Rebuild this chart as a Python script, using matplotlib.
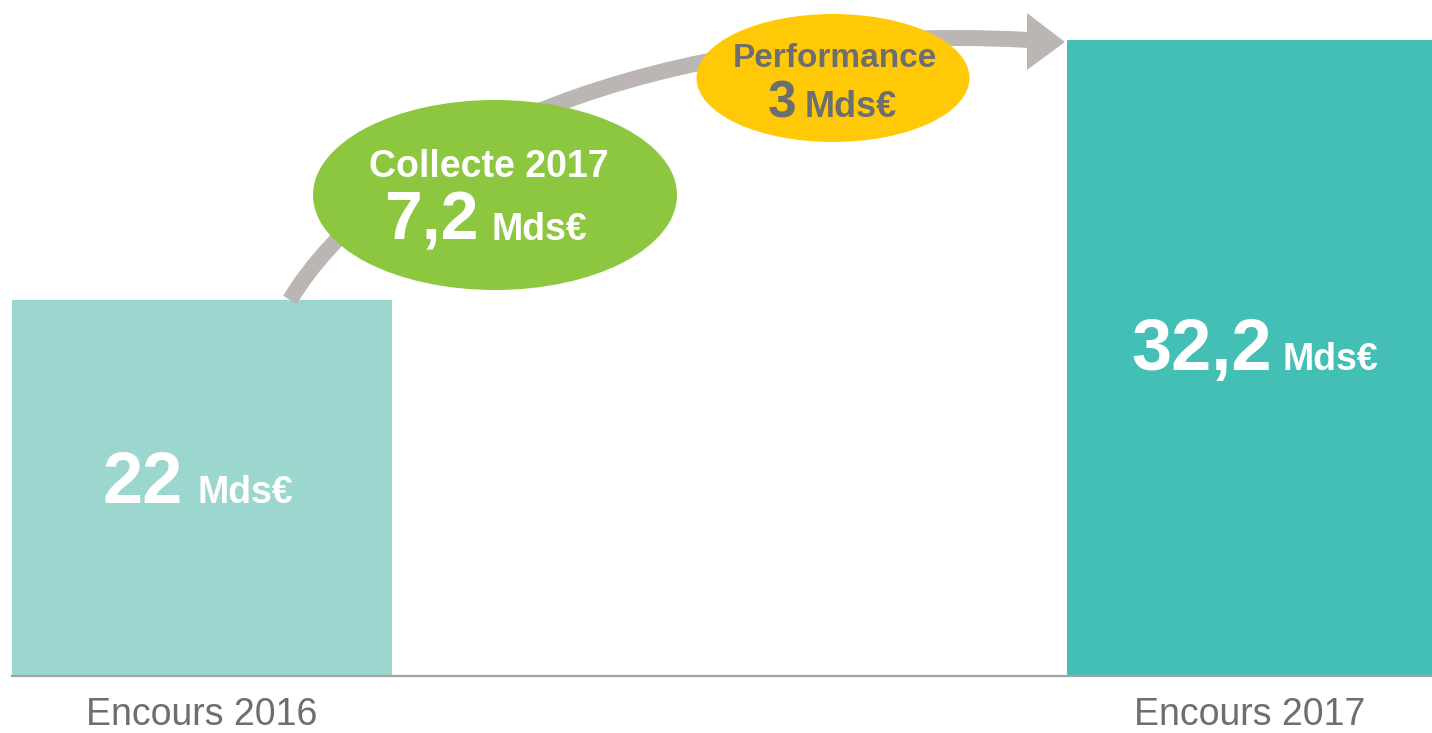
import matplotlib
matplotlib.use("Agg")
import matplotlib.pyplot as plt
from matplotlib import font_manager
from matplotlib.patches import Ellipse, PathPatch, Polygon
from matplotlib.path import Path

# ---- data ----
categories = ["Encours 2016", "Encours 2017"]
values = [22.0, 32.2]
value_labels = ["22", "32,2"]
unit = "Mds€"
flow_titles = ["Collecte 2017", "Performance"]
flow_values = ["7,2", "3"]

# ---- style ----
names = {f.name for f in font_manager.fontManager.ttflist}
COND = "Liberation Sans Narrow" if "Liberation Sans Narrow" in names else "Liberation Sans"
FONT = [COND, "DejaVu Sans"]
BAR_COLORS = ["#9bd6cf", "#43bfb5"]
GREEN = "#8dc63f"
YELLOW = "#ffc907"
ARROW = "#bbb6b4"
GREYTXT = "#6d6e70"

W, H = 1432, 733
fig = plt.figure(figsize=(W / 100, H / 100), dpi=100)


def fpx(x, y):
    """image pixel (top-left origin) -> figure fraction"""
    return x / W, 1 - y / H


# axes: x from 12px to 1432px, bottom at 676px, top at 0px
ax = fig.add_axes([12 / W, 1 - 676 / H, 1420 / W, 676 / H])
x = [0, 1]
widths = [0.363, 0.348]
ax.bar(x, values, width=widths, color=BAR_COLORS, zorder=3)
ax.set_xlim(-0.1815, 1.174)
ax.set_ylim(7.25, 33.77)
for s in ["left", "right", "top"]:
    ax.spines[s].set_visible(False)
ax.spines["bottom"].set_color("#a3a3a3")
ax.spines["bottom"].set_linewidth(1.6)
ax.spines["bottom"].set_zorder(4)
ax.set_yticks([])
ax.set_xticks(x)
ax.set_xticklabels(categories, fontsize=27, color=GREYTXT, family=FONT)
ax.tick_params(axis="x", length=0, pad=15)

# value labels inside bars
ylo = ax.get_ylim()[0]
num_sizes = [52, 52]
offs = [(-19, -15, 14), (22, -12, 11)]
for xi, v, lab, fs, (dx, dy, gap) in zip(x, values, value_labels, num_sizes, offs):
    yc = (ylo + v) / 2
    ax.annotate(lab, xy=(xi, yc), xytext=(dx, dy), textcoords="offset pixels",
                ha="right", va="baseline", color="white", fontsize=fs,
                fontweight="bold", family=FONT, zorder=5)
    ax.annotate(unit, xy=(xi, yc), xytext=(dx + gap, dy), textcoords="offset pixels",
                ha="left", va="baseline", color="white", fontsize=27,
                fontweight="bold", family=FONT, zorder=5)

# curved arrow shaft (cubic bezier, figure pixel space) + head
pts = [fpx(290, 300), fpx(380, 150), fpx(650, 20), fpx(1029, 40)]
shaft = PathPatch(Path(pts, [Path.MOVETO, Path.CURVE4, Path.CURVE4, Path.CURVE4]),
                  transform=fig.transFigure, facecolor="none", edgecolor=ARROW,
                  lw=11.5, capstyle="butt", zorder=1)
fig.patches.append(shaft)
head = Polygon([fpx(1027, 13), fpx(1065, 42), fpx(1027, 70)], closed=True,
               transform=fig.transFigure, facecolor=ARROW, edgecolor="none", zorder=1)
fig.patches.append(head)

# bubbles
bubbles = [
    dict(c=(495, 195), w=364, h=190, fc=GREEN, tc="white",
         tx=489, title_y=177, title_fs=27, val_y=240, val_split=479, val_fs=49,
         gap=13, unit_fs=27),
    dict(c=(833, 78), w=273, h=128, fc=YELLOW, tc=GREYTXT,
         tx=835, title_y=67, title_fs=24, val_y=117, val_split=796, val_fs=37,
         gap=9, unit_fs=26),
]
for b, title, val in zip(bubbles, flow_titles, flow_values):
    cx, cy = fpx(*b["c"])
    e = Ellipse((cx, cy), b["w"] / W, b["h"] / H, transform=fig.transFigure,
                facecolor=b["fc"], edgecolor="none", zorder=2)
    fig.patches.append(e)
    tx, ty = fpx(b["tx"], b["title_y"])
    fig.text(tx, ty, title, ha="center", va="baseline", fontsize=b["title_fs"],
             fontweight="bold", color=b["tc"], family=FONT, zorder=6)
    sx, sy = fpx(b["val_split"], b["val_y"])
    fig.text(sx, sy, val, ha="right", va="baseline", fontsize=b["val_fs"],
             fontweight="bold", color=b["tc"], family=FONT, zorder=6)
    fig.text(sx + b["gap"] / W, sy, unit, ha="left", va="baseline", fontsize=b["unit_fs"],
             fontweight="bold", color=b["tc"], family=FONT, zorder=6)

fig.savefig("out.png", dpi=100)
